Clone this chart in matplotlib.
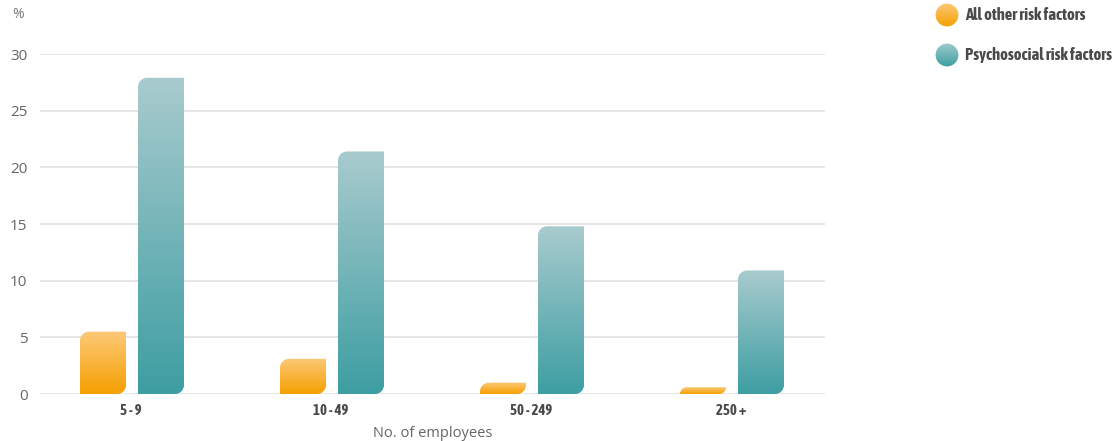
import numpy as np
import matplotlib
matplotlib.use("Agg")
import matplotlib.pyplot as plt
from matplotlib.path import Path
from matplotlib.patches import PathPatch, Circle
from matplotlib.colors import LinearSegmentedColormap
from matplotlib import font_manager

categories = ["5 - 9", "10 - 49", "50 - 249", "250 +"]
other_risk = [5.5, 3.1, 1.0, 0.6]
psychosocial = [27.9, 21.4, 14.8, 10.9]
series_names = ["All other risk factors", "Psychosocial risk factors"]
yticks = [0, 5, 10, 15, 20, 25, 30]

fl = font_manager.fontManager.ttflist

def wt(f):
    w = f.weight
    if isinstance(w, str):
        return {"bold": 700, "semibold": 600, "demibold": 600, "heavy": 800, "black": 900,
                "extra bold": 800, "normal": 400, "regular": 400}.get(w, 400)
    return w

def is_cond(f):
    return ("Condensed" in f.name or "Narrow" in f.name
            or str(f.stretch) in ("condensed", "semi-condensed") or
            (isinstance(f.stretch, int) and f.stretch < 500))

cands = [f for f in fl if is_cond(f) and 600 <= wt(f) <= 750 and "Italic" not in f.fname
         and f.style == "normal"]
cands.sort(key=lambda f: (abs(wt(f) - 700), f.name))
if cands:
    from matplotlib.font_manager import FontProperties
    BOLD = lambda size: dict(fontproperties=FontProperties(fname=cands[0].fname, size=size))
else:
    BOLD = lambda size: dict(family=["DejaVu Sans"], fontweight="bold", fontsize=size)

plt.rcParams['font.family'] = ["Open Sans", "DejaVu Sans"]

W, H = 1116, 441
fig = plt.figure(figsize=(W / 100, H / 100), dpi=100)
ax_l, ax_r, ax_b, ax_t = 40, 825, 394, 54
ax = fig.add_axes([ax_l / W, (H - ax_b) / H, (ax_r - ax_l) / W, (ax_b - ax_t) / H])
ax.set_xlim(-0.455, 3.47)
ax.set_ylim(0, 30)

grid_c = "#e3e3e3"
for t in yticks:
    ax.axhline(t, color=grid_c, lw=1.3, zorder=0)
for s in ax.spines.values():
    s.set_visible(False)
ax.tick_params(length=0)
ax.set_yticks(yticks)
ax.set_yticklabels([str(t) for t in yticks], color="#666666", fontsize=11)
ax.tick_params(axis='y', pad=9)
x = np.arange(len(categories))
ax.set_xticks(x)
ax.set_xticklabels(categories, color="#4a4a4a", **BOLD(10.5))
ax.tick_params(axis='x', pad=7)
ax.set_xlabel("No. of employees", color="#666666", fontsize=10.5, labelpad=6)
fig.text(18 / W, 1 - 15 / H, "%", color="#777777", fontsize=10, ha="center", va="center")

px_x = (ax_r - ax_l) / (3.47 + 0.455)
px_y = (ax_b - ax_t) / 30.0

cmap_o = LinearSegmentedColormap.from_list("o", ["#f5a000", "#fdc878"])
cmap_t = LinearSegmentedColormap.from_list("t", ["#3d9ea2", "#a9cbce"])

K = 0.5523

def leaf_path(x0, x1, h, rpx=9):
    r = min(rpx, h * px_y)
    rx = r / px_x
    ry = r / px_y
    verts = [
        (x0, 0),
        (x0, h - ry),
        (x0, h - ry + K * ry), (x0 + rx - K * rx, h), (x0 + rx, h),
        (x1, h),
        (x1, ry),
        (x1, ry - K * ry), (x1 - rx + K * rx, 0), (x1 - rx, 0),
        (x0, 0),
    ]
    codes = [Path.MOVETO, Path.LINETO, Path.CURVE4, Path.CURVE4, Path.CURVE4,
             Path.LINETO, Path.LINETO, Path.CURVE4, Path.CURVE4, Path.CURVE4,
             Path.CLOSEPOLY]
    return Path(verts, codes)

bw = 46 / px_x
offs = [-28 / px_x, 30 / px_x]
grad = np.linspace(0, 1, 256).reshape(-1, 1)
for vals, off, cm in [(other_risk, offs[0], cmap_o), (psychosocial, offs[1], cmap_t)]:
    for xi, v in zip(x, vals):
        x0 = xi + off - bw / 2
        x1 = xi + off + bw / 2
        patch = PathPatch(leaf_path(x0, x1, v), facecolor="none", edgecolor="none")
        ax.add_patch(patch)
        im = ax.imshow(grad, cmap=cm, origin="lower", aspect="auto",
                       extent=(x0, x1, 0, v), zorder=2, interpolation="bilinear")
        im.set_clip_path(patch)
ax.set_xlim(-0.455, 3.47)
ax.set_ylim(0, 30)

# legend
for i, (name, c1, c2) in enumerate([(series_names[0], "#fdc878", "#f5a000"),
                                    (series_names[1], "#9fcacc", "#3d9ea2")]):
    cy = 15 + 40 * i
    cx = 947
    lax = fig.add_axes([(cx - 12) / W, 1 - (cy + 12) / H, 24 / W, 24 / H])
    lax.set_xlim(-1, 1); lax.set_ylim(-1, 1); lax.axis("off")
    cm = LinearSegmentedColormap.from_list("l", [c2, c1])
    circ = Circle((0, 0), 0.95, transform=lax.transData, facecolor="none", edgecolor="none")
    lax.add_patch(circ)
    im = lax.imshow(grad, cmap=cm, origin="lower", extent=(-1, 1, -1, 1), aspect="auto")
    im.set_clip_path(circ)
    fig.text(965 / W, 1 - cy / H, name, color="#4a4a4a",
             ha="left", va="center", **BOLD(12))

fig.savefig("out.png", dpi=100)
